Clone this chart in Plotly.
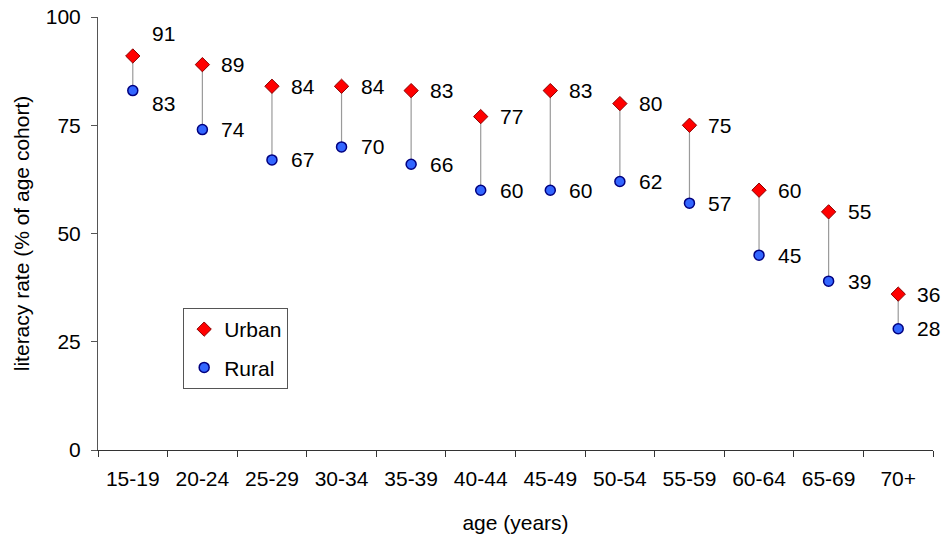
import plotly.graph_objects as go

# Literacy rate by age cohort, urban vs rural (% of age cohort)
age_groups = ["15-19", "20-24", "25-29", "30-34", "35-39", "40-44",
              "45-49", "50-54", "55-59", "60-64", "65-69", "70+"]
urban = [91, 89, 84, 84, 83, 77, 83, 80, 75, 60, 55, 36]
rural = [83, 74, 67, 70, 66, 60, 60, 62, 57, 45, 39, 28]
y_ticks = [0, 25, 50, 75, 100]

FONT = "Liberation Sans, Arial, sans-serif"
TXT = 21

# vertical connectors between the two values of each cohort
conn_x, conn_y = [], []
for g, u, r in zip(age_groups, urban, rural):
    conn_x += [g, g, None]
    conn_y += [u, r, None]

fig = go.Figure()
fig.add_trace(go.Scatter(
    x=conn_x, y=conn_y, mode="lines",
    line=dict(color="#9a9a9a", width=1.2),
    showlegend=False, hoverinfo="skip",
))
fig.add_trace(go.Scatter(
    x=age_groups, y=urban, mode="markers", name="Urban", legendgroup="u",
    marker=dict(symbol="diamond", size=11, color="#ff0000",
                line=dict(color="#8b0000", width=1)),
))
fig.add_trace(go.Scatter(
    x=age_groups, y=rural, mode="markers", name="Rural", legendgroup="r",
    marker=dict(symbol="circle", size=10, color="#3366ff",
                line=dict(color="#000080", width=1.5)),
))

# value labels to the right of each marker; the first cohort's labels
# are nudged above / below because the two points sit close together
annotations = []
for i, (g, u, r) in enumerate(zip(age_groups, urban, rural)):
    du, dr = (22, -13) if i == 0 else (0, 0)
    for val, dy in ((u, du), (r, dr)):
        annotations.append(dict(
            x=g, y=val, xref="x", yref="y", text=str(val),
            showarrow=False, xanchor="left", yanchor="middle",
            xshift=17, yshift=dy,
            font=dict(family=FONT, size=TXT, color="#000000"),
        ))

fig.update_layout(
    width=943, height=542,
    margin=dict(l=98, r=10, t=17, b=92, autoexpand=False),
    paper_bgcolor="white", plot_bgcolor="white",
    font=dict(family=FONT, size=TXT, color="#000000"),
    annotations=annotations,
    showlegend=True,
    legend=dict(
        x=0.102, y=0.328, xanchor="left", yanchor="top",
        bgcolor="white", bordercolor="#555555", borderwidth=1,
        font=dict(family=FONT, size=TXT), tracegroupgap=8,
        traceorder="grouped", itemsizing="trace", itemwidth=30,
    ),
)
fig.update_xaxes(
    type="category", categoryorder="array", categoryarray=age_groups,
    range=[-0.5, len(age_groups) - 0.5], automargin=False,
    showline=True, linecolor="#333333", linewidth=1,
    ticks="outside", tickson="boundaries", ticklen=6, tickcolor="#333333",
    showgrid=False, zeroline=False, ticklabelstandoff=10,
    title=dict(text="age (years)", standoff=26,
               font=dict(family=FONT, size=TXT)),
)
fig.update_yaxes(
    range=[0, 100], tickvals=y_ticks, automargin=False,
    showline=True, linecolor="#555555", linewidth=1,
    ticks="outside", ticklen=6, tickcolor="#555555",
    showgrid=False, zeroline=False, ticklabelstandoff=6,
    title=dict(text="literacy rate (% of age cohort)", standoff=10,
               font=dict(family=FONT, size=TXT)),
)

fig.write_html("out.html")
